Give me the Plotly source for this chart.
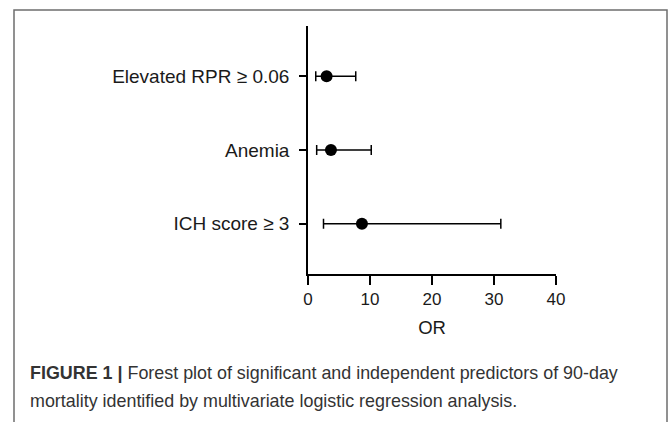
import plotly.graph_objects as go

# Data
predictors = ["Elevated RPR ≥ 0.06", "Anemia", "ICH score ≥ 3"]
odds_ratio = [3.0, 3.7, 8.7]
ci_lower = [1.25, 1.4, 2.5]
ci_upper = [7.7, 10.2, 31.1]
x_ticks = [0, 10, 20, 30, 40]

W, H = 669, 422

def px(x):
    return x / W

def py(y):
    return 1 - y / H

err_plus = [u - o for u, o in zip(ci_upper, odds_ratio)]
err_minus = [o - l for o, l in zip(odds_ratio, ci_lower)]

fig = go.Figure()
fig.add_trace(go.Scatter(
    x=odds_ratio,
    y=predictors,
    mode="markers",
    marker=dict(color="black", size=12),
    error_x=dict(type="data", symmetric=False, array=err_plus, arrayminus=err_minus,
                 color="black", thickness=1.5, width=5),
    showlegend=False,
    cliponaxis=False,
))

font_family = "Liberation Sans, Arial, Helvetica, sans-serif"

fig.update_layout(
    width=W, height=H,
    margin=dict(l=0, r=0, t=0, b=0),
    paper_bgcolor="white",
    plot_bgcolor="white",
    font=dict(family=font_family, color="#1a1a1a"),
    xaxis=dict(
        domain=[px(308), px(556)],
        range=[0, 40],
        tickmode="array", tickvals=x_ticks, ticktext=[str(t) for t in x_ticks],
        showgrid=False, zeroline=False,
        showline=True, linecolor="black", linewidth=1.5,
        ticks="outside", ticklen=9, tickwidth=1.5, tickcolor="black",
        tickfont=dict(size=17, color="#1a1a1a"),
        title=dict(text="OR", font=dict(size=18.5, color="#1a1a1a"), standoff=13),
        automargin=False,
        anchor="y",
    ),
    yaxis=dict(
        domain=[py(274), py(26)],
        range=[2.68, -0.68],
        type="category",
        showgrid=False, zeroline=False,
        showline=True, linecolor="black", linewidth=1.5,
        ticks="outside", ticklen=7, tickwidth=1.5, tickcolor="black",
        tickfont=dict(size=19, color="#1a1a1a"),
        ticklabelstandoff=6,
        automargin=False,
        anchor="x",
    ),
    shapes=[
        dict(type="rect", xref="paper", yref="paper",
             x0=px(14), x1=px(667), y0=-0.2, y1=py(10),
             line=dict(color="#6e6e6e", width=1.5), fillcolor="rgba(0,0,0,0)", layer="below"),
    ],
    annotations=[
        dict(xref="paper", yref="paper", x=px(28), y=py(373), xanchor="left", yanchor="middle",
             text="<b>FIGURE 1 |</b> Forest plot of significant and independent predictors of 90-day",
             showarrow=False, align="left",
             font=dict(size=17.9, color="#333333", family=font_family)),
        dict(xref="paper", yref="paper", x=px(28), y=py(401), xanchor="left", yanchor="middle",
             text="mortality identified by multivariate logistic regression analysis.",
             showarrow=False, align="left",
             font=dict(size=17.9, color="#333333", family=font_family)),
    ],
)

fig.write_html("out.html",
               config={"displayModeBar": False},
               post_script="document.body.style.margin='0';document.body.style.overflow='hidden';")
